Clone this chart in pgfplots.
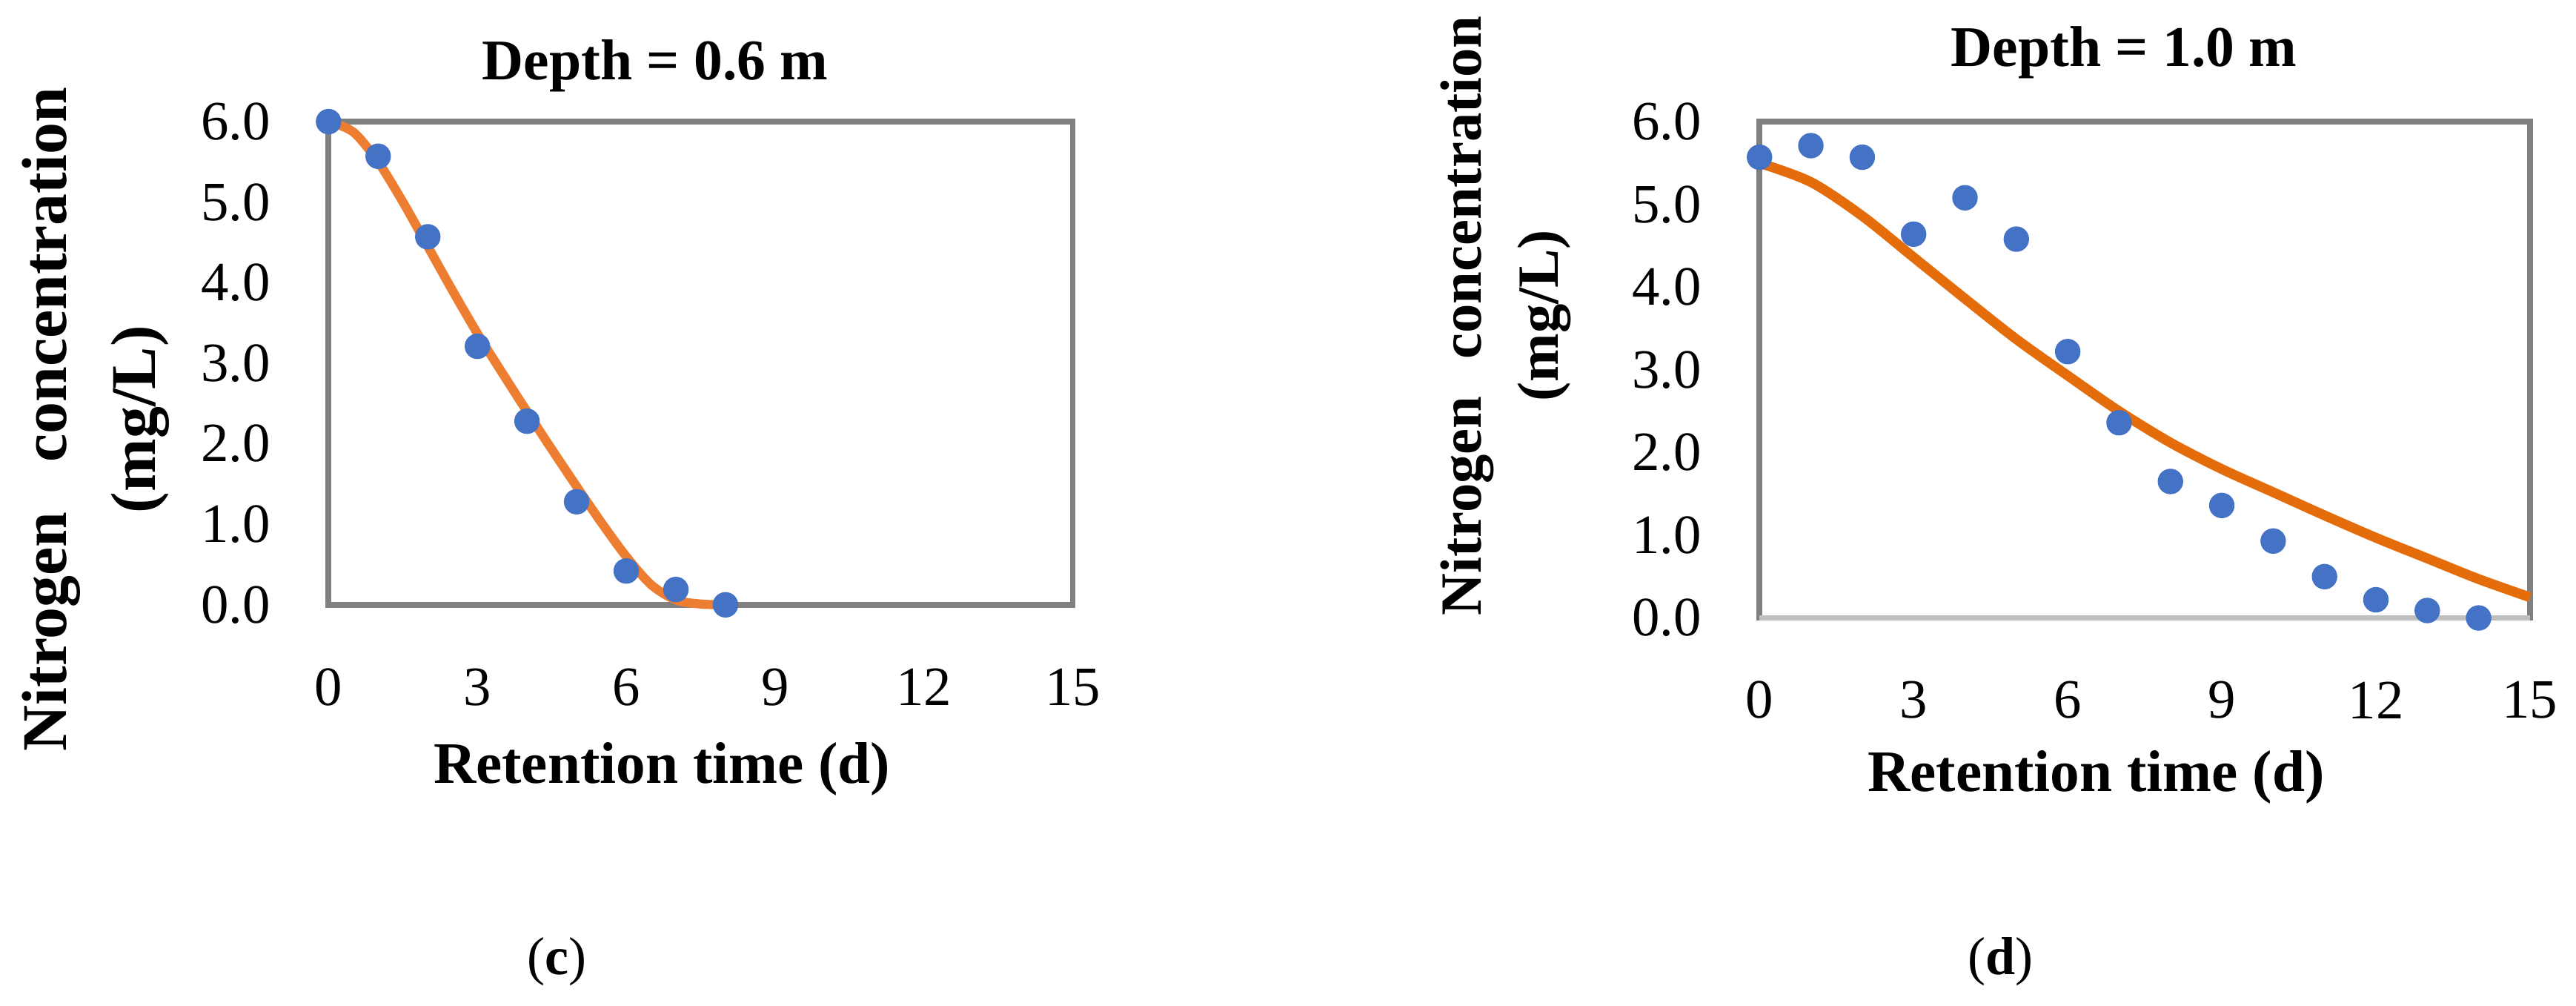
\documentclass[border=0pt]{standalone}
\usepackage{fontspec}
\setmainfont{Liberation Serif}
\usepackage{pgfplots}
\pgfplotsset{compat=1.18}

\definecolor{ptblue}{HTML}{4472C4}
\definecolor{fitorange}{HTML}{ED7D31}
\definecolor{fitdark}{HTML}{E46C0A}
\definecolor{framegray}{HTML}{808080}
\definecolor{zerogray}{HTML}{BFBFBF}

\pgfplotsset{
  panel/.style={
    scale only axis,
    anchor=south west,
    xmin=0, xmax=15, ymin=0, ymax=6,
    xtick={0,3,...,15}, ytick={0,1,...,6},
    major tick length=0pt,
    axis line style={framegray, line width=1.4pt},
    clip=false,
    /pgf/number format/assume math mode=true,
    tick label style={font=\fontsize{13.5}{16}\selectfont},
    yticklabel style={/pgf/number format/fixed,
      /pgf/number format/fixed zerofill,
      /pgf/number format/precision=1,
      anchor=east, inner sep=0pt, xshift=-14pt},
    xticklabel style={anchor=center, inner sep=0pt, yshift=-20pt},
    xlabel={Retention time (d)},
    xlabel style={font=\bfseries\fontsize{14.3}{17}\selectfont, anchor=center},
    every axis title shift=0pt,
    title style={font=\bfseries\fontsize{14}{17}\selectfont, anchor=center},
    ylabel style={anchor=center, align=center},
  },
  obs/.style={only marks, mark=*, mark size=2.9pt, color=ptblue},
}

\begin{document}
\begin{tikzpicture}
\path[use as bounding box] (0,0) rectangle (627.2pt,-244.8pt);

% (c) depth 0.6 m
\begin{axis}[panel,
  at={(80pt,-147.2pt)},
  width=181.2pt, height=117.6pt,
  title={Depth = 0.6 m},
  title style={at={(axis description cs:0.439,1.116)}},
  xlabel style={at={(axis description cs:0.448,-0.340)}},
  ylabel={Nitrogen\hspace{12pt}concentration\\(mg/L)},
  ylabel style={font=\bfseries\fontsize{15.5}{21.6}\selectfont,
    at={(axis description cs:-0.313,0.384)}},
]
\addplot[smooth, fitorange, line width=2.2pt, no marks] coordinates {
  (0,6.0) (0.5,5.87) (1,5.5) (1.5,5.0) (2,4.45) (2.5,3.9) (3,3.37)
  (3.5,2.88) (4,2.4) (4.5,1.93) (5,1.47) (5.5,1.02) (6,0.6) (6.5,0.25)
  (7,0.06) (7.5,0.01) (8,0.0)};
\addplot[obs] coordinates {
  (0,6.0) (1,5.57) (2,4.57) (3,3.21) (4,2.28) (5,1.28) (6,0.42) (7,0.19) (8,0.0)};
\node[font=\fontsize{13}{15}\selectfont] at (axis description cs:0.307,-0.738) {(\textbf{c})};
\end{axis}

% (d) depth 1.0 m
\begin{axis}[panel,
  at={(428.4pt,-150.4pt)},
  width=187.6pt, height=120.8pt,
  title={Depth = 1.0 m},
  title style={at={(axis description cs:0.473,1.139)}},
  xlabel style={at={(axis description cs:0.437,-0.321)}},
  ylabel={Nitrogen\hspace{9pt}concentration\\(mg/L)},
  ylabel style={font=\bfseries\fontsize{14.2}{18.8}\selectfont,
    at={(axis description cs:-0.329,0.609)}},
]
\draw[zerogray, line width=1.4pt] (axis description cs:0,0) -- (axis description cs:1,0);
\addplot[smooth, fitdark, line width=2.4pt, no marks] coordinates {
  (0,5.5) (1,5.27) (2,4.86) (3,4.36) (4,3.86) (5,3.37) (6,2.93) (7,2.5)
  (8,2.12) (9,1.8) (10,1.52) (11,1.24) (12,0.97) (13,0.72) (14,0.47) (15,0.25)};
\addplot[obs] coordinates {
  (0,5.57) (1,5.71) (2,5.57) (3,4.64) (4,5.08) (5,4.58) (6,3.22) (7,2.36)
  (8,1.65) (9,1.36) (10,0.93) (11,0.5) (12,0.22) (13,0.09) (14,0.0)};
\node[font=\fontsize{13}{15}\selectfont] at (axis description cs:0.313,-0.692) {(\textbf{d})};
\end{axis}
\end{tikzpicture}
\end{document}
